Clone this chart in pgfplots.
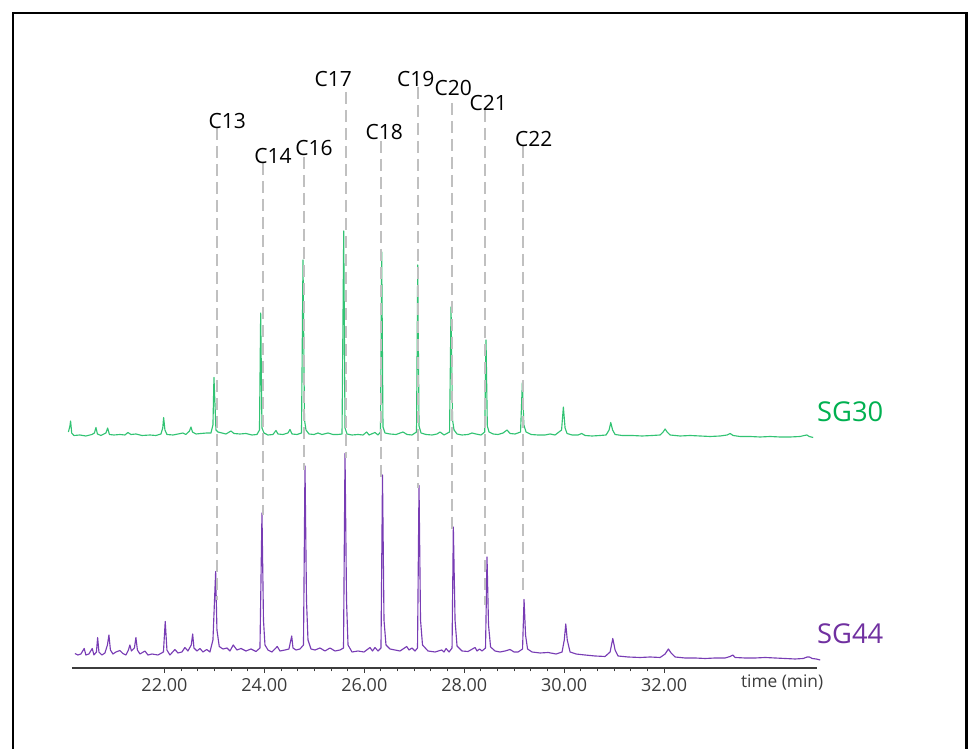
\documentclass[border=0pt]{standalone}
\usepackage{fontspec}
\setmainfont{Open Sans}
\usepackage{pgfplots}
\pgfplotsset{compat=1.18}
\definecolor{gtrace}{RGB}{50,195,115}
\definecolor{gtext}{RGB}{0,176,80}
\definecolor{ptrace}{RGB}{120,60,180}
\definecolor{ptext}{RGB}{112,48,160}
\definecolor{dgray}{RGB}{192,192,192}
\definecolor{axgray}{RGB}{60,60,60}
\begin{document}
\begin{tikzpicture}
\useasboundingbox (0,0) rectangle (726pt,561.75pt);
\draw[line width=1.9pt] (9.75pt,-5pt) -- (9.75pt,552pt) -- (724.9pt,552pt) -- (724.9pt,-5pt);
\begin{axis}[
  at={(54pt,60.75pt)}, anchor=south west,
  scale only axis, width=558.75pt, height=492pt,
  xmin=20.15, xmax=35.06, ymin=81, ymax=737,
  clip=false,
  axis x line=bottom, axis y line=none,
  axis line style={-, draw=axgray, line width=0.9pt},
  xtick={22,24,...,32},
  minor x tick num=5,
  tick align=outside,
  major tick length=3.5pt, minor tick length=2.5pt,
  tick style={draw=axgray, line width=0.7pt},
  xticklabel style={font=\fontsize{13.5}{15}\selectfont, text=axgray, anchor=north, inner sep=0pt, yshift=-4.5pt},
  /pgf/number format/.cd, fixed, fixed zerofill, precision=2, assume math mode=true,
]
% SG30 trace
\addplot[gtrace, line width=0.85pt, line join=round] coordinates {
(20.078,317)(20.108,323)(20.122,328)(20.144,316)(20.188,313.5)(20.308,314)(20.428,313)(20.549,314.5)(20.599,316)(20.629,321.5)(20.659,315)(20.729,313.5)(20.829,316)(20.863,321)(20.899,314.5)(20.989,314)(21.109,314.5)(21.209,314)(21.269,316.5)(21.329,314.5)(21.429,315)(21.550,313.5)(21.710,314)(21.830,313.5)(21.930,315)(21.966,321)(21.984,331.5)(22.010,319)(22.050,314.5)(22.170,314)(22.270,315)(22.370,316)(22.430,314.5)(22.501,318)(22.531,322)(22.561,317)(22.631,315)(22.731,315.5)(22.845,316)(22.931,316)(22.971,324)(22.991,371.5)(23.031,319)(23.071,317)(23.151,316)(23.231,315)(23.331,318)(23.391,315.5)(23.512,315)(23.632,315.5)(23.752,314)(23.852,314.5)(23.902,319)(23.926,436)(23.952,321)(23.992,316)(24.072,314)(24.172,314.5)(24.232,318.5)(24.272,315)(24.372,314.5)(24.472,316)(24.513,319.5)(24.553,315)(24.653,314.5)(24.743,316)(24.773,489)(24.803,329)(24.833,319)(24.893,315)(24.993,314.5)(25.073,316)(25.153,314.5)(25.273,316)(25.373,314.5)(25.473,314.5)(25.554,315)(25.588,518)(25.614,321)(25.654,315)(25.754,314)(25.874,314.5)(25.974,314)(26.048,317)(26.094,314)(26.214,316.5)(26.274,314)(26.324,317)(26.348,497)(26.374,322)(26.414,316)(26.515,315)(26.635,314.5)(26.775,317)(26.855,314.5)(26.955,314)(27.045,317)(27.069,484)(27.095,323)(27.135,316)(27.235,314.5)(27.355,314)(27.455,315)(27.516,317)(27.596,314)(27.706,317)(27.736,442)(27.766,329)(27.796,319)(27.856,315)(27.956,314)(28.076,314.5)(28.156,316)(28.236,315)(28.336,314)(28.410,317)(28.436,409)(28.462,323)(28.496,317)(28.576,315)(28.677,314.5)(28.777,316)(28.857,319)(28.917,315.5)(29.017,315)(29.127,317)(29.163,366.5)(29.193,324)(29.237,317)(29.337,314.5)(29.477,314)(29.618,314)(29.718,315)(29.818,314)(29.948,319)(29.984,342)(30.018,321)(30.058,315.5)(30.158,314)(30.278,314)(30.352,315.5)(30.418,313.5)(30.559,313)(30.719,313.5)(30.839,314)(30.899,319)(30.933,326.5)(30.969,319)(31.019,314.5)(31.159,313.5)(31.359,313.5)(31.560,313)(31.760,313.5)(31.920,314)(31.980,317)(32.020,320)(32.060,317)(32.120,314)(32.320,313)(32.520,313.5)(32.721,313)(32.921,312.5)(33.121,313)(33.261,314)(33.321,315.5)(33.381,313.5)(33.521,312.5)(33.722,312.5)(33.922,312)(34.122,312.5)(34.322,312)(34.522,312)(34.722,312.5)(34.803,313.5)(34.857,314)(34.903,312.5)(34.983,311.5)
};
% SG44 trace
\addplot[ptrace, line width=0.85pt, line join=round] coordinates {
(20.208,95.5)(20.268,94)(20.328,95)(20.394,100.5)(20.428,94)(20.488,95)(20.555,100.5)(20.589,94)(20.639,97)(20.663,111.5)(20.689,97)(20.749,94)(20.809,96)(20.859,104)(20.889,114)(20.919,99)(20.969,95)(21.029,97)(21.109,98.5)(21.169,95.5)(21.229,94)(21.279,99)(21.309,104)(21.339,98)(21.399,101)(21.429,111.5)(21.459,99)(21.510,95)(21.610,98)(21.670,94)(21.750,95)(21.870,94)(21.980,97)(22.016,127.5)(22.050,99)(22.110,94)(22.210,99.5)(22.270,96)(22.350,97)(22.410,101.5)(22.470,98)(22.537,104)(22.565,115)(22.591,101)(22.651,98)(22.711,100.5)(22.771,97)(22.845,99.5)(22.911,97)(22.971,109)(23.025,177.5)(23.051,119)(23.097,102.5)(23.171,100)(23.251,101)(23.311,98)(23.377,104)(23.451,99)(23.532,100.5)(23.632,98)(23.732,100)(23.832,97.5)(23.912,101)(23.952,236)(23.982,129)(24.012,104)(24.072,99)(24.152,97)(24.258,102.5)(24.312,98)(24.412,99)(24.492,100)(24.547,113)(24.573,101)(24.633,99)(24.713,100)(24.783,104)(24.813,283)(24.843,149)(24.873,109)(24.933,100)(25.013,99)(25.113,101)(25.213,98)(25.313,101)(25.413,98)(25.514,99)(25.584,101)(25.614,295.5)(25.644,149)(25.674,104)(25.754,97)(25.874,98)(25.994,97)(26.114,101.5)(26.164,98)(26.214,101.5)(26.274,98)(26.334,101)(26.364,274)(26.394,129)(26.434,104)(26.515,100)(26.615,99)(26.715,98)(26.849,102.5)(26.895,99)(26.955,101)(27.015,98)(27.065,101)(27.095,263.5)(27.125,129)(27.165,104)(27.275,98)(27.415,97)(27.549,99)(27.596,97)(27.636,100.5)(27.696,97)(27.756,101)(27.782,222)(27.816,129)(27.856,103)(27.956,98)(28.076,97.5)(28.216,101.5)(28.256,98)(28.306,100)(28.356,98)(28.426,101)(28.456,192)(28.486,124)(28.527,102)(28.617,98)(28.717,97)(28.817,98)(28.917,99.5)(28.997,97)(29.077,97)(29.167,100)(29.197,149.5)(29.227,114)(29.267,100)(29.357,97)(29.518,96)(29.678,96.5)(29.838,95)(29.958,97)(30.002,109)(30.032,125)(30.062,109)(30.118,97)(30.238,95)(30.418,94)(30.619,93)(30.819,92.5)(30.919,97)(30.973,110.5)(31.019,99)(31.079,93)(31.279,92)(31.520,91.5)(31.720,92)(31.920,91.5)(32.020,95)(32.086,100)(32.140,96)(32.220,92)(32.420,91)(32.621,91)(32.821,90.5)(33.021,91)(33.221,91)(33.321,92.5)(33.375,94)(33.421,91.5)(33.622,91)(33.822,91)(34.022,91.5)(34.222,91)(34.422,90.5)(34.622,90)(34.783,90.5)(34.863,92)(34.909,92)(34.963,90.5)(35.043,90)(35.123,89)
};
% dashed guide lines
\addplot[dgray, line width=1.5pt, dash pattern=on 9pt off 4.5pt] coordinates {(23.051,621)(23.051,149)};
\addplot[dgray, line width=1.5pt, dash pattern=on 9pt off 4.5pt] coordinates {(23.972,586)(23.972,234)};
\addplot[dgray, line width=1.5pt, dash pattern=on 9pt off 4.5pt] coordinates {(24.793,592)(24.793,279)};
\addplot[dgray, line width=1.5pt, dash pattern=on 9pt off 4.5pt] coordinates {(25.634,657)(25.634,291)};
\addplot[dgray, line width=1.5pt, dash pattern=on 9pt off 4.5pt] coordinates {(26.334,608)(26.334,271)};
\addplot[dgray, line width=1.5pt, dash pattern=on 9pt off 4.5pt] coordinates {(27.075,662)(27.075,261)};
\addplot[dgray, line width=1.5pt, dash pattern=on 9pt off 4.5pt] coordinates {(27.756,646)(27.756,219)};
\addplot[dgray, line width=1.5pt, dash pattern=on 9pt off 4.5pt] coordinates {(28.416,639)(28.416,144)};
\addplot[dgray, line width=1.5pt, dash pattern=on 9pt off 4.5pt] coordinates {(29.177,603)(29.177,154)};
% peak labels
\begin{scope}[every node/.style={font=\fontsize{15.75}{18}\selectfont, inner sep=0pt, anchor=center}]
\node at (axis cs:23.257,628.3) {C13};
\node at (axis cs:24.172,593.3) {C14};
\node at (axis cs:24.993,601.3) {C16};
\node at (axis cs:25.379,670.2) {C17};
\node at (axis cs:26.400,616.7) {C18};
\node at (axis cs:27.029,670) {C19};
\node at (axis cs:27.782,660.7) {C20};
\node at (axis cs:28.482,646.3) {C21};
\node at (axis cs:29.391,610) {C22};
\end{scope}
\node[font=\fontsize{20.5}{24}\selectfont, text=gtext, inner sep=0pt] at (axis cs:35.724,337) {SG30};
\node[font=\fontsize{20.5}{24}\selectfont, text=ptext, inner sep=0pt] at (axis cs:35.724,115) {SG44};
\node[font=\fontsize{13}{15}\selectfont, text=axgray, inner sep=0pt] at (axis cs:34.362,66) {time (min)};
\end{axis}
\end{tikzpicture}
\end{document}
